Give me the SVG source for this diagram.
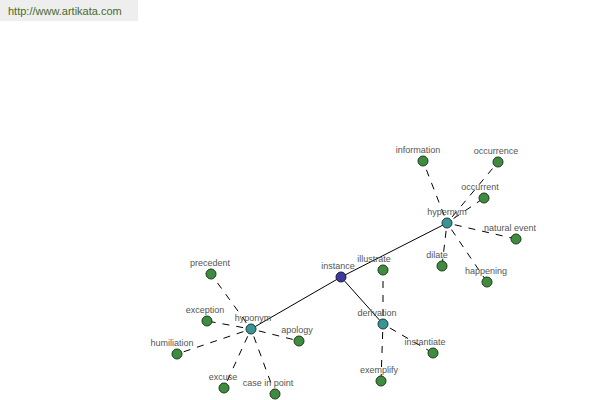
<svg xmlns="http://www.w3.org/2000/svg" width="600" height="400" viewBox="0 0 600 400">
<style>
.solid{stroke:#000;stroke-width:1;fill:none}
.dash{stroke:#000;stroke-width:1;fill:none;stroke-dasharray:7,7}
.leaf{fill:#3f8c3f;stroke:#1e3a1e;stroke-width:1}
.hub{fill:#3a9494;stroke:#1e3a3a;stroke-width:1}
.root{fill:#3c3c98;stroke:#1a1a40;stroke-width:1}
text{font-family:"Liberation Sans",Arial,sans-serif;font-size:9px;fill:#555;text-anchor:middle}
</style>
<rect width="600" height="400" fill="#fff"/>
<g id="banner">
<rect x="0" y="0" width="138" height="21" fill="#eeeeee"/>
<text x="8" y="15" style="font-size:11px;fill:#4a6a2a;text-anchor:start">http://www.artikata.com</text>
</g>
<g id="connectors">
<line class="solid" x1="341" y1="277" x2="447" y2="223"/>
<line class="solid" x1="341" y1="277" x2="251" y2="329"/>
<line class="solid" x1="341" y1="277" x2="383" y2="324"/>
<line class="dash" x1="444.1" y1="215.5" x2="423" y2="161"/>
<line class="dash" x1="452.1" y1="216.9" x2="498" y2="162"/>
<line class="dash" x1="453.6" y1="218.5" x2="484" y2="198"/>
<line class="dash" x1="454.8" y1="224.8" x2="516" y2="239"/>
<line class="dash" x1="446.1" y1="230.9" x2="442" y2="266"/>
<line class="dash" x1="451.5" y1="229.6" x2="487" y2="282"/>
<line class="dash" x1="383" y1="316" x2="383" y2="270"/>
<line class="dash" x1="389.9" y1="328" x2="433" y2="353"/>
<line class="dash" x1="382.7" y1="332" x2="381" y2="381"/>
<line class="dash" x1="246.3" y1="322.5" x2="211" y2="274"/>
<line class="dash" x1="243.1" y1="327.6" x2="207" y2="321"/>
<line class="dash" x1="258.8" y1="330.9" x2="299" y2="341"/>
<line class="dash" x1="243.4" y1="331.6" x2="177" y2="354"/>
<line class="dash" x1="247.7" y1="336.3" x2="224" y2="388"/>
<line class="dash" x1="253.8" y1="336.5" x2="275" y2="394"/>
</g>
<g id="instance"><circle class="root" cx="341" cy="277" r="5"/><text x="338" y="269">instance</text></g>
<g id="hypernym"><circle class="hub" cx="447" cy="223" r="5"/><text x="447" y="215">hypernym</text></g>
<g id="hyponym"><circle class="hub" cx="251" cy="329" r="5"/><text x="253" y="321">hyponym</text></g>
<g id="derivation"><circle class="hub" cx="383" cy="324" r="5"/><text x="377" y="316">derivation</text></g>
<g id="information"><circle class="leaf" cx="423" cy="161" r="5"/><text x="418" y="153">information</text></g>
<g id="occurrence"><circle class="leaf" cx="498" cy="162" r="5"/><text x="496" y="154">occurrence</text></g>
<g id="occurrent"><circle class="leaf" cx="484" cy="198" r="5"/><text x="480" y="190">occurrent</text></g>
<g id="natural-event"><circle class="leaf" cx="516" cy="239" r="5"/><text x="510" y="231">natural event</text></g>
<g id="dilate"><circle class="leaf" cx="442" cy="266" r="5"/><text x="437" y="258">dilate</text></g>
<g id="happening"><circle class="leaf" cx="487" cy="282" r="5"/><text x="486" y="274">happening</text></g>
<g id="illustrate"><circle class="leaf" cx="383" cy="270" r="5"/><text x="374" y="262">illustrate</text></g>
<g id="instantiate"><circle class="leaf" cx="433" cy="353" r="5"/><text x="425" y="345">instantiate</text></g>
<g id="exemplify"><circle class="leaf" cx="381" cy="381" r="5"/><text x="379" y="373">exemplify</text></g>
<g id="precedent"><circle class="leaf" cx="211" cy="274" r="5"/><text x="210" y="266">precedent</text></g>
<g id="exception"><circle class="leaf" cx="207" cy="321" r="5"/><text x="205" y="313">exception</text></g>
<g id="apology"><circle class="leaf" cx="299" cy="341" r="5"/><text x="297" y="333">apology</text></g>
<g id="humiliation"><circle class="leaf" cx="177" cy="354" r="5"/><text x="172" y="346">humiliation</text></g>
<g id="excuse"><circle class="leaf" cx="224" cy="388" r="5"/><text x="223" y="380">excuse</text></g>
<g id="case-in-point"><circle class="leaf" cx="275" cy="394" r="5"/><text x="268" y="386">case in point</text></g>
</svg>
